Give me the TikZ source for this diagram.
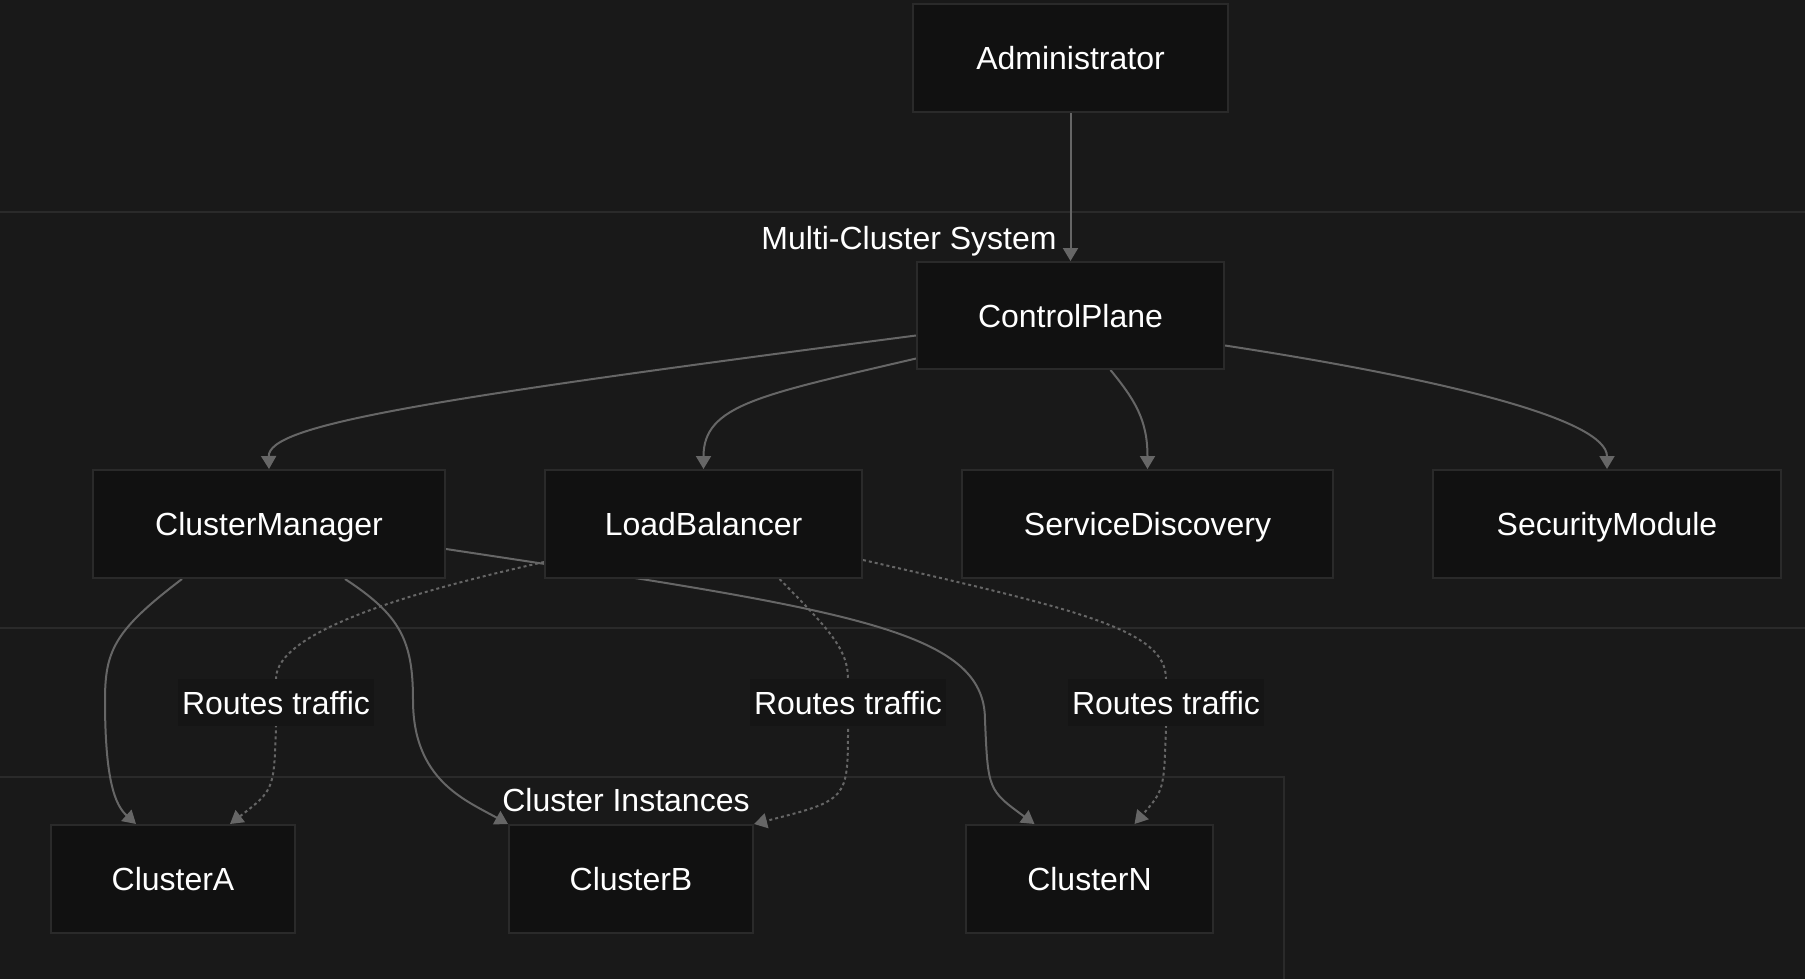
\documentclass[tikz,border=0pt]{standalone}
\usepackage{fontspec}
\setmainfont{Liberation Sans}
\usetikzlibrary{arrows.meta}
\definecolor{bgcol}{HTML}{191919}
\definecolor{boxfill}{HTML}{111111}
\definecolor{boxline}{HTML}{2A2A2A}
\definecolor{edgecol}{HTML}{666666}
\definecolor{lblfill}{HTML}{151515}
\pgfdeclarelayer{bg}
\pgfdeclarelayer{edges}
\pgfsetlayers{bg,edges,main}

\begin{document}
\begin{tikzpicture}[x=1pt, y=-1pt,
  every node/.style={font=\fontsize{32}{38}\selectfont, text=white, text height=23pt, text depth=0pt},
  box/.style={draw=boxline, fill=boxfill, line width=2pt, minimum height=108pt, inner sep=0pt},
  lbl/.style={fill=lblfill, minimum width=196pt, minimum height=47pt, inner sep=0pt},
  flow/.style={draw=edgecol, line width=2pt, -{Triangle[width=15pt,length=13pt]}},
  traffic/.style={flow, dash pattern=on 3pt off 3pt}]
\useasboundingbox (0,0) rectangle (1805,979);
\begin{pgfonlayer}{bg}
  \fill[bgcol] (0,0) rectangle (1805,979);
  \draw[boxline, line width=2pt] (-10,212) rectangle (1815,628);
  \draw[boxline, line width=2pt] (-10,777) rectangle (1284,995);
\end{pgfonlayer}

\node (systitle) at (909,237.5) {Multi-Cluster System};
\node (insttitle) at (626,800) {Cluster Instances};

\node[box, minimum width=315pt] (admin) at (1070.5,58) {Administrator};
\node[box, minimum width=307pt, minimum height=107pt] (cp) at (1070.5,315.5) {ControlPlane};
\node[box, minimum width=352pt] (mgr) at (269,524) {ClusterManager};
\node[box, minimum width=317pt] (lb) at (703.5,524) {LoadBalancer};
\node[box, minimum width=371pt] (sd) at (1147.5,524) {ServiceDiscovery};
\node[box, minimum width=348pt] (sec) at (1607,524) {SecurityModule};
\node[box, minimum width=244pt] (ca) at (173,879) {ClusterA};
\node[box, minimum width=244pt] (cb) at (631,879) {ClusterB};
\node[box, minimum width=247pt] (cn) at (1089.5,879) {ClusterN};

\foreach \n/\x in {rt1/276, rt2/848, rt3/1166}
  \node[lbl] (\n) at (\x,702.5) {Routes traffic};

\begin{pgfonlayer}{edges}
  \draw[flow] (admin) -- (cp);
  \draw[flow] ([yshift=-20pt]cp.west) .. controls (420,400) and (268,425) .. (mgr.north);
  \draw[flow] ([yshift=-43pt]cp.west) .. controls (760,395) and (703.5,405) .. (lb.north);
  \draw[flow] ([xshift=40pt]cp.south) .. controls (1135,400) and (1147.5,420) .. (sd.north);
  \draw[flow] ([yshift=-30pt]cp.east) .. controls (1450,380) and (1607,420) .. (sec.north);

  \draw[flow] ([xshift=-87pt]mgr.south) .. controls (115,630) and (105,650) .. (105,700)
    .. controls (105,780) and (115,805) .. ([xshift=-37pt]ca.north);
  \draw[flow] ([xshift=76pt]mgr.south) .. controls (400,615) and (413,640) .. (413,700)
    .. controls (413,780) and (465,800) .. (cb.north west);
  \draw[flow] ([yshift=-25pt]mgr.east) .. controls (850,610) and (985,630) .. (985,720)
    .. controls (988,790) .. ([xshift=-55pt]cn.north);

  % dashed routes through the labels
  \draw[traffic] ([yshift=-38pt]lb.west) .. controls (420,590) and (276,630) .. (rt1.north)
    -- (rt1.south) .. controls (274,790) .. ([xshift=57pt]ca.north);
  \draw[traffic] ([xshift=76pt]lb.south) .. controls (830,630) and (848,650) .. (rt2.north)
    -- (rt2.south) .. controls (848,800) .. (cb.north east);
  \draw[traffic] ([yshift=-36pt]lb.east) .. controls (1080,610) and (1166,630) .. (rt3.north)
    -- (rt3.south) .. controls (1164,790) .. ([xshift=45pt]cn.north);
\end{pgfonlayer}
\end{tikzpicture}
\end{document}
